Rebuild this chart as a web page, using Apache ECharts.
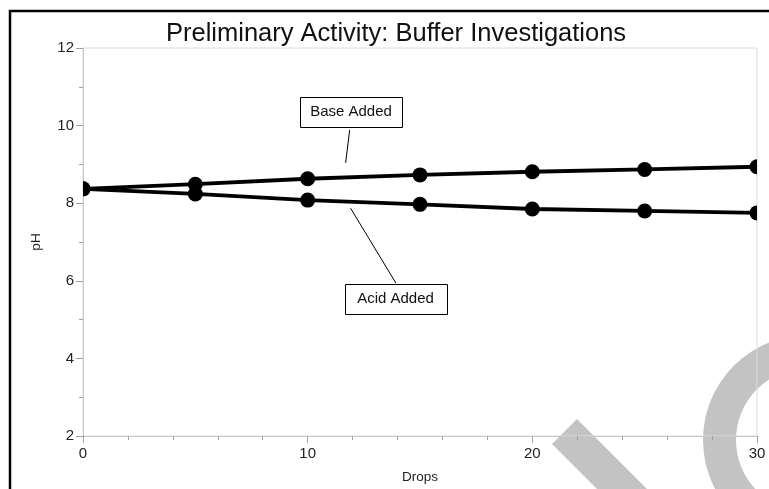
<!DOCTYPE html>
<html>
<head>
<meta charset="utf-8">
<script src="https://cdn.jsdelivr.net/npm/echarts@6/dist/echarts.min.js"></script>
<style>
html,body{margin:0;padding:0;background:#fff;}
#chart{width:769px;height:489px;}
</style>
</head>
<body>
<div id="chart"></div>
<script>
// ---- data ----
const drops = [0, 5, 10, 15, 20, 25, 30];
const baseAdded = [8.37, 8.49, 8.63, 8.73, 8.81, 8.87, 8.94];
const acidAdded = [8.37, 8.24, 8.08, 7.97, 7.85, 7.80, 7.75];
const xTicks = [0, 10, 20, 30];
const yTicks = [2, 4, 6, 8, 10, 12];
const titleText = 'Preliminary Activity: Buffer Investigations';
const xName = 'Drops';
const yName = 'pH';
// callouts: label, box centre (data coords), leader line from / to (data coords)
const calloutLabels = ['Base Added', 'Acid Added'];
const calloutBox = [[11.93, 10.36], [13.91, 5.54]];
const calloutFrom = [[11.87, 9.89], [11.91, 7.87]];
const calloutTo = [[11.69, 9.04], [13.93, 5.94]];

const FONT = '"Liberation Sans", Arial, sans-serif';
const chart = echarts.init(document.getElementById('chart'), null, {renderer: 'canvas'});

const toPairs = (xs, ys) => xs.map((x, i) => [x, ys[i]]);

function markerSeries(name, ys) {
  return {
    name: name + ' points', type: 'custom', clip: true, z: 4,
    data: toPairs(drops, ys),
    encode: {x: 0, y: 1},
    renderItem: function (params, api) {
      const p = api.coord([api.value(0), api.value(1)]);
      return {
        type: 'circle',
        shape: {cx: p[0], cy: p[1], r: 7.5},
        style: {fill: '#000'}
      };
    }
  };
}

const option = {
  animation: false,
  backgroundColor: '#fff',
  title: {
    text: titleText,
    left: 161,
    top: 16,
    textStyle: {fontFamily: FONT, fontSize: 25.5, fontWeight: 'normal', color: '#111'}
  },
  grid: {
    left: 83, right: 12, top: 48, bottom: 53,
    show: true, borderColor: '#dcdcdc', borderWidth: 1, backgroundColor: 'transparent'
  },
  xAxis: {
    type: 'value', min: xTicks[0], max: xTicks[xTicks.length - 1], interval: 10,
    name: xName, nameLocation: 'middle', nameGap: 34,
    nameTextStyle: {fontFamily: FONT, fontSize: 13.5, color: '#222'},
    axisLine: {show: true, onZero: false, lineStyle: {color: '#c8c8c8', width: 1}},
    axisTick: {show: true, length: 7, lineStyle: {color: '#a0a0a0'}},
    minorTick: {show: true, splitNumber: 5, length: 4, lineStyle: {color: '#a0a0a0'}},
    splitLine: {show: false},
    axisLabel: {fontFamily: FONT, fontSize: 15, color: '#222', margin: 10}
  },
  yAxis: {
    type: 'value', min: yTicks[0], max: yTicks[yTicks.length - 1], interval: 2,
    name: yName, nameLocation: 'middle', nameGap: 40,
    nameTextStyle: {fontFamily: FONT, fontSize: 13.5, color: '#222'},
    axisLine: {show: true, onZero: false, lineStyle: {color: '#c8c8c8', width: 1}},
    axisTick: {show: true, length: 7, lineStyle: {color: '#a0a0a0'}},
    minorTick: {show: true, splitNumber: 2, length: 4, lineStyle: {color: '#a0a0a0'}},
    splitLine: {show: false},
    axisLabel: {fontFamily: FONT, fontSize: 15, color: '#222', margin: 9}
  },
  series: [
    {
      name: 'Base Added', type: 'line', data: toPairs(drops, baseAdded),
      showSymbol: false, clip: true,
      lineStyle: {color: '#000', width: 3.8}, itemStyle: {color: '#000'}, z: 3
    },
    {
      name: 'Acid Added', type: 'line', data: toPairs(drops, acidAdded),
      showSymbol: false, clip: true,
      lineStyle: {color: '#000', width: 3.8}, itemStyle: {color: '#000'}, z: 3
    },
    markerSeries('Base Added', baseAdded),
    markerSeries('Acid Added', acidAdded)
  ]
};
chart.setOption(option);

function px(p) { return chart.convertToPixel({gridIndex: 0}, p); }

const elements = [];
// watermark-like grey shapes seen in the picture (behind everything)
elements.push({
  type: 'polygon', z: -10,
  shape: {points: [[577, 419], [552, 444], [597, 489], [647, 489]]},
  style: {fill: '#c3c3c3'}
});
elements.push({
  type: 'ring', z: -10,
  shape: {cx: 808, cy: 440, r: 105, r0: 72},
  style: {fill: '#c3c3c3'}
});
// outer frame
elements.push({
  type: 'rect', zlevel: 1, z: 200, silent: true,
  shape: {x: 10, y: 11, width: 900, height: 900},
  style: {fill: 'none', stroke: '#000', lineWidth: 2.5}
});

// callouts
calloutLabels.forEach((lab, i) => {
  const a = px(calloutFrom[i]);
  const b = px(calloutTo[i]);
  elements.push({
    type: 'line', zlevel: 1, z: 50,
    shape: {x1: a[0], y1: a[1], x2: b[0], y2: b[1]},
    style: {stroke: '#000', lineWidth: 1}
  });
  const c = px(calloutBox[i]);
  elements.push({
    type: 'rect', zlevel: 1, z: 51,
    shape: {x: Math.round(c[0] - 51) + 0.5, y: Math.round(c[1] - 15) + 0.5, width: 102, height: 30},
    style: {fill: '#fff', stroke: '#000', lineWidth: 1}
  });
  elements.push({
    type: 'text', zlevel: 1, z: 52,
    x: c[0], y: c[1],
    style: {text: lab, fontFamily: FONT, fontSize: 15, fill: '#111', align: 'center', verticalAlign: 'middle'}
  });
});
chart.setOption({graphic: {elements: elements}});
</script>
</body>
</html>
